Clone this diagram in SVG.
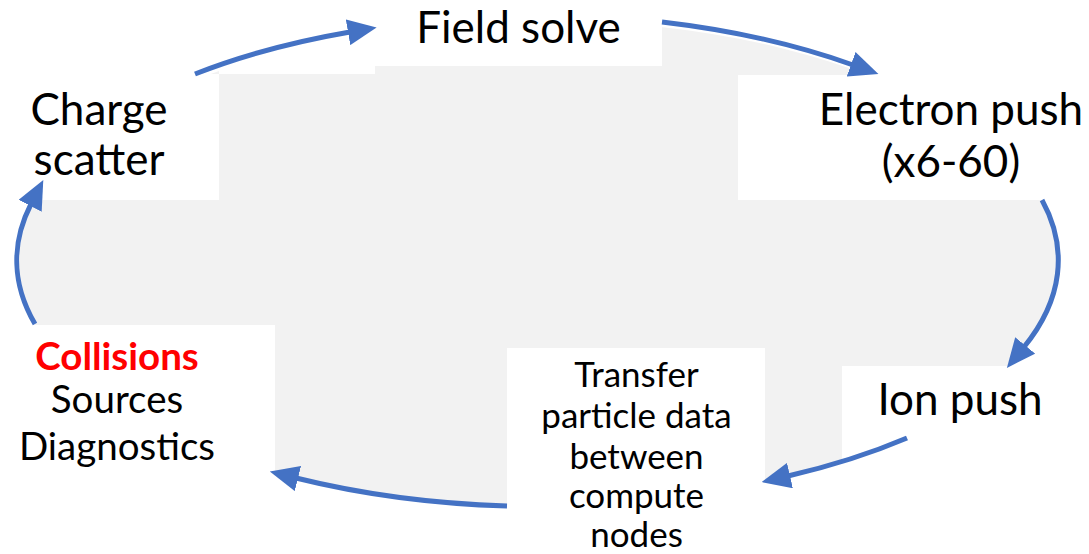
<svg xmlns="http://www.w3.org/2000/svg" width="1089" height="554" viewBox="0 0 1089 554">
  <defs>
    <style>
      .box { fill: #ffffff; }
      .lbl { font-family: Lato, "Liberation Sans", sans-serif; fill: #000000; text-anchor: middle; }
      .s36 { font-size: 44px; }
      .s32 { font-size: 38.5px; }
      .s28 { font-size: 35px; }
      .hot { fill: #ff0000; font-weight: bold; }
      .arc { fill: none; stroke: #4472c4; stroke-width: 5; marker-end: url(#head); }
    </style>
    <marker id="head" markerUnits="userSpaceOnUse" viewBox="0 0 29 26" markerWidth="29" markerHeight="26" refX="2" refY="13" orient="auto">
      <path d="M0,0 L29,13 L0,26 Z" fill="#4472c4"/>
    </marker>
  </defs>

  <rect width="1089" height="554" fill="#ffffff"/>

  <!-- shaded cycle area -->
  <g id="backdrop">
    <ellipse cx="538" cy="263" rx="521" ry="243" fill="#f2f2f2"/>
    <rect x="219" y="0" width="156" height="74" fill="#ffffff"/>
    <rect x="842" y="438" width="247" height="40" fill="#ffffff"/>
  </g>

  <g id="field-solve">
    <rect class="box" x="375" y="0" width="287" height="66"/>
    <text class="lbl s36" x="518.5" y="43">Field solve</text>
  </g>

  <g id="electron-push">
    <rect class="box" x="738" y="75" width="351" height="125"/>
    <text class="lbl s36" x="951" y="125">Electron push</text>
    <text class="lbl s36" x="951" y="177">(x6-60)</text>
  </g>

  <g id="ion-push">
    <rect class="box" x="842" y="366" width="247" height="72"/>
    <text class="lbl s36" x="960" y="415">Ion push</text>
  </g>

  <g id="transfer">
    <rect class="box" x="507" y="348" width="258" height="206"/>
    <text class="lbl s28" x="636.5" y="387">Transfer</text>
    <text class="lbl s28" x="636.5" y="428">particle data</text>
    <text class="lbl s28" x="636.5" y="469">between</text>
    <text class="lbl s28" x="636.5" y="508">compute</text>
    <text class="lbl s28" x="636.5" y="547">nodes</text>
  </g>

  <g id="collisions">
    <rect class="box" x="0" y="325" width="275" height="165"/>
    <text class="lbl s32 hot" x="117" y="370">Collisions</text>
    <text class="lbl s32" x="117" y="413">Sources</text>
    <text class="lbl s32" x="117" y="460">Diagnostics</text>
  </g>

  <g id="charge-scatter">
    <rect class="box" x="0" y="74" width="219" height="126"/>
    <text class="lbl s36" x="99" y="125">Charge</text>
    <text class="lbl s36" x="99" y="175">scatter</text>
  </g>

  <!-- cycle arrows, drawn over the boxes -->
  <g id="connectors">
    <path class="arc" d="M195,74 A521,243 0 0 1 350,32"/>
    <path class="arc" d="M662,22 A521,243 0 0 1 853,65"/>
    <path class="arc" d="M1042,200 A521,243 0 0 1 1024,347"/>
    <path class="arc" d="M907,438 A521,243 0 0 1 788,476"/>
    <path class="arc" d="M507,506 A521,243 0 0 1 296,478"/>
    <path class="arc" d="M35,324 A521,243 0 0 1 31,204"/>
  </g>
</svg>
